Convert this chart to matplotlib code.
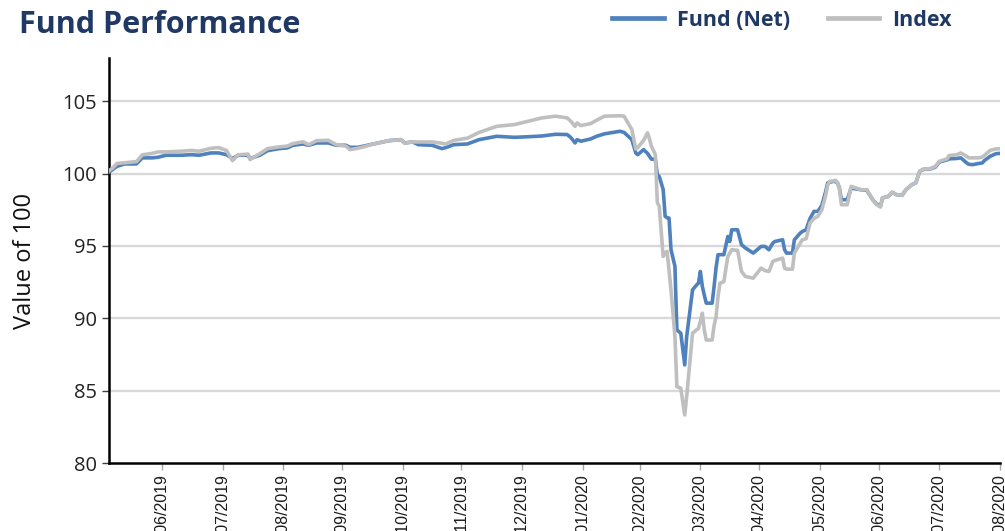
import matplotlib
matplotlib.use("Agg")
import matplotlib.pyplot as plt
import matplotlib.dates as mdates
import pandas as pd
from matplotlib.lines import Line2D

# ---------------- data ----------------
dates = [
    "2019-06-03", "2019-06-05", "2019-06-07", "2019-06-11", "2019-06-17", "2019-06-20",
    "2019-06-25", "2019-06-28", "2019-07-02", "2019-07-10", "2019-07-15", "2019-07-19",
    "2019-07-25", "2019-07-29", "2019-08-02", "2019-08-05", "2019-08-08", "2019-08-13",
    "2019-08-14", "2019-08-19", "2019-08-23", "2019-08-29", "2019-09-02", "2019-09-05",
    "2019-09-10", "2019-09-13", "2019-09-17", "2019-09-23", "2019-09-27", "2019-10-02",
    "2019-10-04", "2019-10-08", "2019-10-11", "2019-10-16", "2019-10-24", "2019-10-30",
    "2019-11-01", "2019-11-05", "2019-11-08", "2019-11-15", "2019-11-20", "2019-11-22",
    "2019-11-26", "2019-12-03", "2019-12-09", "2019-12-18", "2019-12-27", "2020-01-03",
    "2020-01-10", "2020-01-17", "2020-01-23", "2020-01-25", "2020-01-27", "2020-01-28",
    "2020-01-30", "2020-02-04", "2020-02-07", "2020-02-11", "2020-02-19", "2020-02-21",
    "2020-02-25", "2020-02-27", "2020-02-28", "2020-03-02", "2020-03-04", "2020-03-05",
    "2020-03-06", "2020-03-08", "2020-03-09", "2020-03-10", "2020-03-12", "2020-03-13",
    "2020-03-14", "2020-03-15", "2020-03-16", "2020-03-18", "2020-03-19", "2020-03-21",
    "2020-03-23", "2020-03-24", "2020-03-27", "2020-03-29", "2020-03-30", "2020-03-31",
    "2020-04-01", "2020-04-02", "2020-04-03", "2020-04-06", "2020-04-07", "2020-04-08",
    "2020-04-09", "2020-04-10", "2020-04-12", "2020-04-14", "2020-04-15", "2020-04-16",
    "2020-04-19", "2020-04-21", "2020-04-23", "2020-04-27", "2020-05-01", "2020-05-03",
    "2020-05-05", "2020-05-07", "2020-05-08", "2020-05-12", "2020-05-13", "2020-05-14",
    "2020-05-17", "2020-05-18", "2020-05-21", "2020-05-22", "2020-05-24", "2020-05-26",
    "2020-05-28", "2020-05-30", "2020-06-01", "2020-06-03", "2020-06-04", "2020-06-05",
    "2020-06-07", "2020-06-08", "2020-06-09", "2020-06-10", "2020-06-11", "2020-06-14",
    "2020-06-16", "2020-06-21", "2020-06-24", "2020-06-27", "2020-06-29", "2020-07-01",
    "2020-07-02", "2020-07-05", "2020-07-07", "2020-07-09", "2020-07-12", "2020-07-14",
    "2020-07-17", "2020-07-19", "2020-07-21", "2020-07-23", "2020-07-26", "2020-07-29",
    "2020-07-31", "2020-08-04", "2020-08-05", "2020-08-09", "2020-08-11", "2020-08-14",
    "2020-08-15", "2020-08-17", "2020-08-20", "2020-08-22", "2020-08-23", "2020-08-26",
    "2020-08-29", "2020-08-31",
]

fund_net = [
    100.10, 100.30, 100.50, 100.67, 100.67, 101.09,
    101.09, 101.13, 101.27, 101.27, 101.31, 101.27,
    101.43, 101.43, 101.31, 101.04, 101.27, 101.27,
    101.04, 101.27, 101.59, 101.73, 101.78, 101.96,
    102.05, 101.96, 102.12, 102.12, 101.96, 101.96,
    101.82, 101.82, 101.90, 102.05, 102.28, 102.35,
    102.12, 102.19, 102.00, 101.96, 101.73, 101.80,
    102.00, 102.05, 102.35, 102.58, 102.51, 102.55,
    102.60, 102.72, 102.70, 102.47, 102.12, 102.35,
    102.24, 102.40, 102.58, 102.75, 102.93, 102.85,
    102.35, 101.43, 101.31, 101.66, 101.40, 101.20,
    101.00, 101.00, 99.93, 99.80, 98.90, 97.05,
    96.95, 96.93, 94.74, 93.60, 89.20, 88.97,
    86.78, 88.74, 91.97, 92.30, 92.43, 93.24,
    92.20, 91.60, 91.05, 91.05, 92.20, 93.50,
    94.40, 94.40, 94.40, 95.66, 95.31, 96.12,
    96.12, 95.09, 94.86, 94.51, 94.97, 94.97,
    94.74, 95.20, 95.31, 95.43, 94.74, 94.51,
    94.51, 95.43, 95.89, 96.00, 96.12, 96.90,
    97.39, 97.39, 97.80, 98.77, 99.36, 99.40,
    99.47, 99.45, 99.36, 99.00, 98.20, 98.20,
    99.00, 98.89, 98.85, 98.20, 97.90, 97.75,
    98.32, 98.43, 98.71, 98.55, 98.50, 98.89,
    99.24, 99.36, 100.16, 100.30, 100.30, 100.45,
    100.80, 100.95, 101.02, 101.05, 101.09, 100.74,
    100.65, 100.62, 100.70, 100.74, 100.90, 101.20,
    101.38, 101.40,
]

index_vals = [
    100.20, 100.40, 100.70, 100.75, 100.83, 101.30,
    101.40, 101.50, 101.50, 101.55, 101.60, 101.55,
    101.75, 101.80, 101.60, 100.90, 101.30, 101.35,
    100.97, 101.38, 101.73, 101.85, 101.90, 102.08,
    102.20, 102.00, 102.28, 102.30, 102.00, 101.90,
    101.66, 101.75, 101.85, 102.05, 102.28, 102.35,
    102.10, 102.19, 102.19, 102.19, 102.10, 102.05,
    102.30, 102.45, 102.85, 103.27, 103.39, 103.62,
    103.85, 103.97, 103.85, 103.60, 103.27, 103.50,
    103.32, 103.46, 103.69, 103.97, 104.00, 103.97,
    103.05, 101.70, 101.80, 102.30, 102.82, 102.40,
    101.89, 101.31, 98.00, 97.74, 94.28, 94.50,
    94.63, 93.30, 91.97, 88.74, 85.28, 85.17,
    83.32, 84.60, 88.97, 89.20, 89.30, 89.80,
    90.36, 89.20, 88.50, 88.50, 89.50, 90.10,
    91.50, 92.43, 92.54, 94.28, 94.50, 94.74,
    94.70, 93.24, 92.89, 92.78, 93.47, 93.30,
    93.24, 93.93, 94.00, 94.16, 93.47, 93.40,
    93.40, 94.51, 95.20, 95.43, 95.50, 96.59,
    96.90, 97.05, 97.50, 98.50, 99.20, 99.47,
    99.50, 99.54, 99.40, 99.00, 97.85, 97.85,
    99.12, 98.89, 98.89, 98.20, 97.85, 97.69,
    98.32, 98.43, 98.71, 98.55, 98.50, 98.89,
    99.24, 99.36, 100.16, 100.32, 100.32, 100.50,
    100.85, 101.02, 101.25, 101.31, 101.43, 101.20,
    101.09, 101.09, 101.09, 101.15, 101.25, 101.61,
    101.71, 101.72,
]

series_names = ["Fund (Net)", "Index"]
y_ticks = [80, 85, 90, 95, 100, 105]
title_text = "Fund Performance"
y_label = "Value of 100"

# ---------------- styling ----------------
NAVY = "#1F3864"
BLUE = "#4F81BD"
GREY = "#BFBFBF"

x = pd.to_datetime(dates)

fig = plt.figure(figsize=(10.05, 5.31), dpi=100)
ax = fig.add_axes([0.1085, 0.128, 0.8865, 0.763])

ax.plot(x, fund_net, color=BLUE, lw=2.6, zorder=3)
ax.plot(x, index_vals, color=GREY, lw=2.6, zorder=4)

ax.set_ylim(80, 108)
ax.set_yticks(y_ticks)
ax.set_xlim(pd.Timestamp("2019-06-03"), pd.Timestamp("2020-08-31"))

month_ends = pd.date_range("2019-06-30", "2020-08-31", freq="ME")
ax.set_xticks(month_ends)
ax.xaxis.set_major_formatter(mdates.DateFormatter("%d/%m/%Y"))

for t in y_ticks[1:]:
    ax.axhline(t, color="#D9D9D9", lw=1.7, zorder=1)

for s in ["top", "right"]:
    ax.spines[s].set_visible(False)
for s in ["left", "bottom"]:
    ax.spines[s].set_linewidth(1.8)
    ax.spines[s].set_color("black")

ax.tick_params(axis="y", length=5, width=1, color="#404040", labelsize=14.5,
               pad=4, labelcolor="#222222")
ax.tick_params(axis="x", length=5, width=1, color="#A6A6A6", labelsize=11.5,
               pad=3, labelrotation=90, labelcolor="#1a1a1a")
for lbl in ax.get_yticklabels():
    lbl.set_fontfamily("Open Sans")
for lbl in ax.get_xticklabels():
    lbl.set_fontfamily("Liberation Sans")

ax.set_ylabel(y_label, fontsize=17, fontfamily="Open Sans", labelpad=18, color="#111111")

fig.text(0.019, 0.953, title_text, fontsize=22, fontweight="bold", color=NAVY,
         fontfamily="Open Sans", va="center", ha="left")

handles = [Line2D([], [], color=BLUE, lw=3.4), Line2D([], [], color=GREY, lw=3.4)]
leg = fig.legend(handles, series_names, loc="center right", bbox_to_anchor=(0.947, 0.962),
                 ncol=2, frameon=False, handlelength=2.4, handletextpad=0.6,
                 columnspacing=1.75, borderpad=0.0, borderaxespad=0.0,
                 prop={"family": "Open Sans", "weight": "bold", "size": 15.5})
for t in leg.get_texts():
    t.set_color(NAVY)

fig.savefig("out.png", dpi=100)
